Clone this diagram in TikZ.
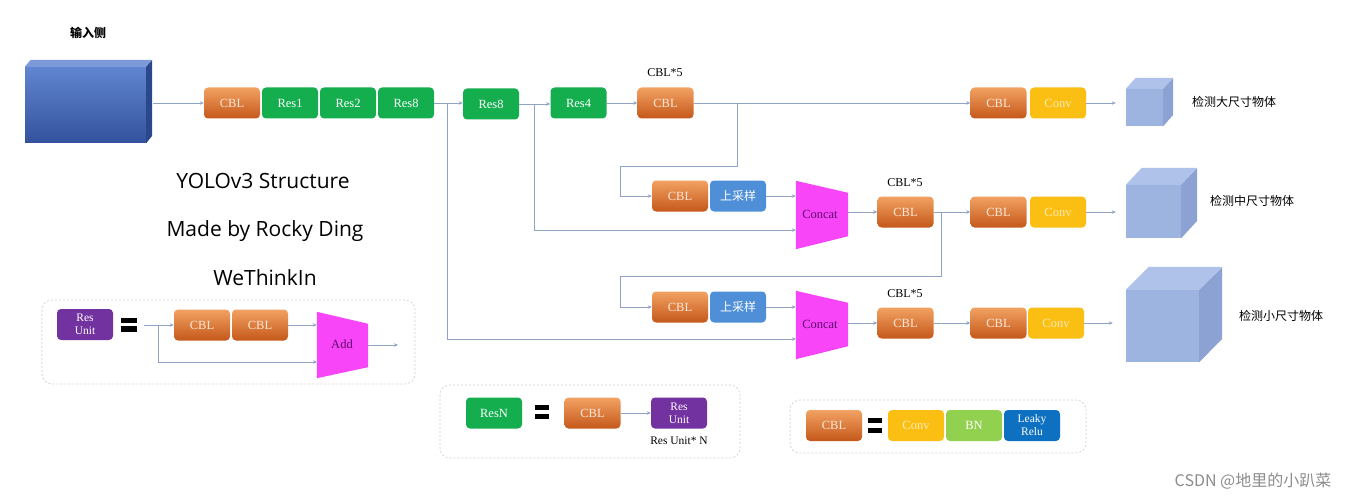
\documentclass[tikz,border=0pt]{standalone}
\usepackage{fontspec}
\setmainfont{Liberation Serif}
\newfontfamily\cjk{Noto Sans CJK SC}
\newfontfamily\ttl{Open Sans}
\usetikzlibrary{arrows.meta,calc}
\definecolor{lc}{HTML}{8FA3C6}
\definecolor{cblT}{HTML}{F2A263}
\definecolor{cblB}{HTML}{C4581A}
\definecolor{cblTx}{HTML}{FCE8D8}
\definecolor{resG}{HTML}{14AE4E}
\definecolor{upB}{HTML}{4E8FD8}
\definecolor{convY}{HTML}{FBBE12}
\definecolor{convTx}{HTML}{FDECB8}
\definecolor{bnG}{HTML}{92D050}
\definecolor{lrB}{HTML}{0E70C0}
\definecolor{ruP}{HTML}{7232A0}
\definecolor{magT}{HTML}{F845F8}
\definecolor{catTx}{HTML}{5E0A6E}
\definecolor{dashc}{HTML}{D9CEC6}
\definecolor{cubeF}{HTML}{9DB3E0}
\definecolor{cubeT}{HTML}{AFC2EA}
\definecolor{cubeS}{HTML}{8CA2D2}
\definecolor{inT}{HTML}{6185D0}
\definecolor{inB}{HTML}{33529D}
\definecolor{inTop}{HTML}{7C99D8}
\definecolor{inSide}{HTML}{2C488C}
\tikzset{
  blk/.style={rounded corners=4pt, minimum width=56pt, minimum height=31pt, inner sep=0pt, font=\fontsize{12.5}{13}\selectfont, align=center},
  cbl/.style={blk, top color=cblT, bottom color=cblB, text=cblTx},
  resb/.style={blk, fill=resG, text=white},
  upb/.style={blk, fill=upB, text=white, font=\cjk\fontsize{12}{13}\selectfont},
  convb/.style={blk, fill=convY, text=convTx},
  bnb/.style={blk, fill=bnG, text=white},
  leaky/.style={blk, fill=lrB, text=white, font=\fontsize{11.5}{13}\selectfont},
  runit/.style={blk, fill=ruP, text=white, font=\fontsize{11.5}{13}\selectfont},
  trapn/.style={minimum width=52pt, minimum height=68pt, inner sep=0pt, text=catTx, font=\fontsize{12.5}{13}\selectfont},
  dbox/.style={draw=dashc, dash pattern=on 2pt off 2pt, rounded corners=10pt, line width=0.7pt},
  lbl/.style={font=\fontsize{12}{13}\selectfont},
  cjkl/.style={font=\cjk\fontsize{12}{13}\selectfont},
  arr/.style={draw=lc, line width=0.8pt, -{Stealth[length=4pt,width=3.5pt]}},
  ttlf/.style={font=\ttl\fontsize{21}{24}\selectfont, text height=15pt, text depth=5pt},
  eqbar/.style={fill=black},
  cubef/.style={fill=cubeF, inner sep=0pt},
}
\begin{document}
\begin{tikzpicture}[x=1pt,y=-1pt]
\useasboundingbox (0,0) rectangle (1346,500);
\fill[white] (0,0) rectangle (1346,500);

% ---------- input block ----------
\node[font=\cjk\bfseries\fontsize{12}{13}\selectfont] (inlbl) at (88,33) {输入侧};
\node[minimum width=121pt, minimum height=76pt, inner sep=0pt, top color=inT, bottom color=inB] (input) at (85.5,105) {};
\fill[inTop] (input.north west) -- ++(6,-7) -- ++(121,0) -- (input.north east) -- cycle;
\fill[inSide] (input.north east) -- ++(6,-7) -- ++(0,76) -- (input.south east) -- cycle;
\coordinate (inR) at ([xshift=7pt]input.east);

% ---------- backbone ----------
\node[cbl] (cbl1) at (232,103) {CBL};
\node[resb] (res1) at (290,103) {Res1};
\node[resb] (res2) at (348,103) {Res2};
\node[resb] (res8a) at (406,103) {Res8};
\node[resb] (res8b) at (491,104) {Res8};
\node[resb] (res4) at (578.5,103) {Res4};
\node[cbl] (cblt) at (665.5,103) {CBL};
\node[lbl] (lt) at (665,73) {CBL*5};

\draw[arr] (inR |- cbl1.west) -- (cbl1.west);
\draw[arr] (res8a.east) -- (res8b.west |- res8a.east);
\draw[arr] (res8b.east) -- (res4.west |- res8b.east);
\draw[arr] (res4.east) -- (cblt.west);

% ---------- heads ----------
\node[cbl] (cblr1) at (998.5,103) {CBL};
\node[convb] (conv1) at (1058,103) {Conv};
\node[cbl] (cblr2) at (998.5,212) {CBL};
\node[convb] (conv2) at (1058,212) {Conv};
\node[cbl] (cblr3) at (998.5,323) {CBL};
\node[convb] (conv3) at (1056,323) {Conv};

\draw[arr] (cblt.east) -- (cblr1.west);

% upsample rows
\node[cbl] (cblu1) at (680,196) {CBL};
\node[upb] (up1) at (738,196) {上采样};
\node[cbl] (cblu2) at (680,307) {CBL};
\node[upb] (up2) at (738,307) {上采样};

% concat trapezoids
\node[trapn] (cat1) at (822,215) {};
\fill[magT] (cat1.north west) -- ([yshift=-12pt]cat1.north east) -- ([yshift=13pt]cat1.south east) -- (cat1.south west) -- cycle;
\node[trapn, minimum width=0pt, minimum height=0pt] (cat1t) at (820,214) {Concat};
\node[trapn] (cat2) at (822,325) {};
\fill[magT] (cat2.north west) -- ([yshift=-12pt]cat2.north east) -- ([yshift=13pt]cat2.south east) -- (cat2.south west) -- cycle;
\node[trapn, minimum width=0pt, minimum height=0pt] (cat2t) at (820,324) {Concat};

\node[cbl] (cbl5b) at (905.5,212) {CBL};
\node[lbl] (l5b) at (905,183) {CBL*5};
\node[cbl] (cbl5c) at (905.5,323) {CBL};
\node[lbl] (l5c) at (905,294) {CBL*5};

% branch junctions
\coordinate (j1) at (447,103);
\coordinate (j2) at (534,104);
\coordinate (j3) at (737,103);
\coordinate (j4) at (941,212);
\coordinate (c1b) at (796,230);
\coordinate (c2b) at (796,339);

\draw[arr] (j1) |- (c2b);
\draw[arr] (j2) |- (c1b);
\draw[arr] (j3) -- ++(0,63) -| ([xshift=-31pt]cblu1.west) -- (cblu1.west);
\draw[arr] (j4) -- ++(0,64) -| ([xshift=-31pt]cblu2.west) -- (cblu2.west);

\draw[arr] (up1.east) -- (up1 -| cat1.west);
\draw[arr] (up2.east) -- (up2 -| cat2.west);
\draw[arr] (cat1.east |- cbl5b) -- (cbl5b.west);
\draw[arr] (cat2.east |- cbl5c) -- (cbl5c.west);
\draw[arr] (cbl5b.east) -- (cblr2.west);
\draw[arr] (cbl5c.east) -- (cblr3.west);

% ---------- output cubes ----------
\node[cubef, minimum width=37pt, minimum height=37pt] (cube1) at (1144.5,107.5) {};
\fill[cubeT] (cube1.north west) -- ++(10,-11) -- ++(37,0) -- (cube1.north east) -- cycle;
\fill[cubeS] (cube1.north east) -- ++(10,-11) -- ++(0,37) -- (cube1.south east) -- cycle;
\node[cubef, minimum width=55pt, minimum height=53pt] (cube2) at (1153.5,211.5) {};
\fill[cubeT] (cube2.north west) -- ++(16,-17) -- ++(55,0) -- (cube2.north east) -- cycle;
\fill[cubeS] (cube2.north east) -- ++(16,-17) -- ++(0,53) -- (cube2.south east) -- cycle;
\node[cubef, minimum width=73pt, minimum height=72pt] (cube3) at (1162.5,326) {};
\fill[cubeT] (cube3.north west) -- ++(23,-23) -- ++(73,0) -- (cube3.north east) -- cycle;
\fill[cubeS] (cube3.north east) -- ++(23,-23) -- ++(0,72) -- (cube3.south east) -- cycle;

\draw[arr, shorten >=10pt] (conv1.east) -- (conv1 -| cube1.west);
\draw[arr, shorten >=10pt] (conv2.east) -- (conv2 -| cube2.west);
\draw[arr, shorten >=13pt] (conv3.east) -- (conv3 -| cube3.west);

\node[cjkl] (o1) at (1234,102) {检测大尺寸物体};
\node[cjkl] (o2) at (1252,201) {检测中尺寸物体};
\node[cjkl] (o3) at (1281,316) {检测小尺寸物体};

% ---------- titles ----------
\node[ttlf] (t1) at (263,183) {YOLOv3 Structure};
\node[ttlf] (t2) at (265,231) {Made by Rocky Ding};
\node[ttlf] (t3) at (265,280) {WeThinkIn};

% ---------- Res Unit legend ----------
\draw[dbox] (42,300) rectangle (415,384);
\node[runit] (ru) at (85,324.5) {Res\\Unit};
\fill[eqbar] (121,318) rectangle (137,323);
\fill[eqbar] (121,326) rectangle (137,332);
\node[cbl] (rcbl1) at (202,325) {CBL};
\node[cbl] (rcbl2) at (260,325) {CBL};
\node[trapn, minimum width=51pt, minimum height=66pt] (add) at (342.5,345) {};
\fill[magT] (add.north west) -- ([yshift=-12pt]add.north east) -- ([yshift=11pt]add.south east) -- (add.south west) -- cycle;
\node[trapn, minimum width=0pt, minimum height=0pt] (addt) at (342,344) {Add};
\coordinate (ruin) at (144,325);
\coordinate (rj) at (158,325);
\coordinate (addb) at (317,362);
\coordinate (ruout) at (398,345);
\draw[arr] (ruin) -- (rcbl1.west);
\draw[arr] (rj) |- (addb);
\draw[arr] (rcbl2.east) -- (rcbl2 -| add.west);
\draw[arr] (add.east) -- (ruout);

% ---------- ResN legend ----------
\draw[dbox] (440,385) rectangle (740,458);
\node[resb] (resn) at (494,413) {ResN};
\fill[eqbar] (535,405) rectangle (549,410);
\fill[eqbar] (535,414) rectangle (549,419);
\node[cbl] (ncbl) at (592.5,413) {CBL};
\node[runit] (nru) at (679,413) {Res\\Unit};
\draw[arr] (ncbl.east) -- (nru.west);
\node[lbl, font=\fontsize{11.5}{12}\selectfont] (nlab) at (679,441) {Res Unit* N};

% ---------- CBL legend ----------
\draw[dbox] (790,400) rectangle (1086,453);
\node[cbl] (lcbl) at (834,425.5) {CBL};
\fill[eqbar] (868,418) rectangle (882,423);
\fill[eqbar] (868,428) rectangle (882,433);
\node[convb] (lconv) at (916,425.5) {Conv};
\node[bnb] (lbn) at (974,425.5) {BN};
\node[leaky] (llr) at (1032,425.5) {Leaky\\Relu};

% ---------- watermark ----------
\node[font=\cjk\fontsize{16}{18}\selectfont, text=black!45] (wm) at (1253,481) {CSDN @地里的小趴菜};
\end{tikzpicture}
\end{document}
